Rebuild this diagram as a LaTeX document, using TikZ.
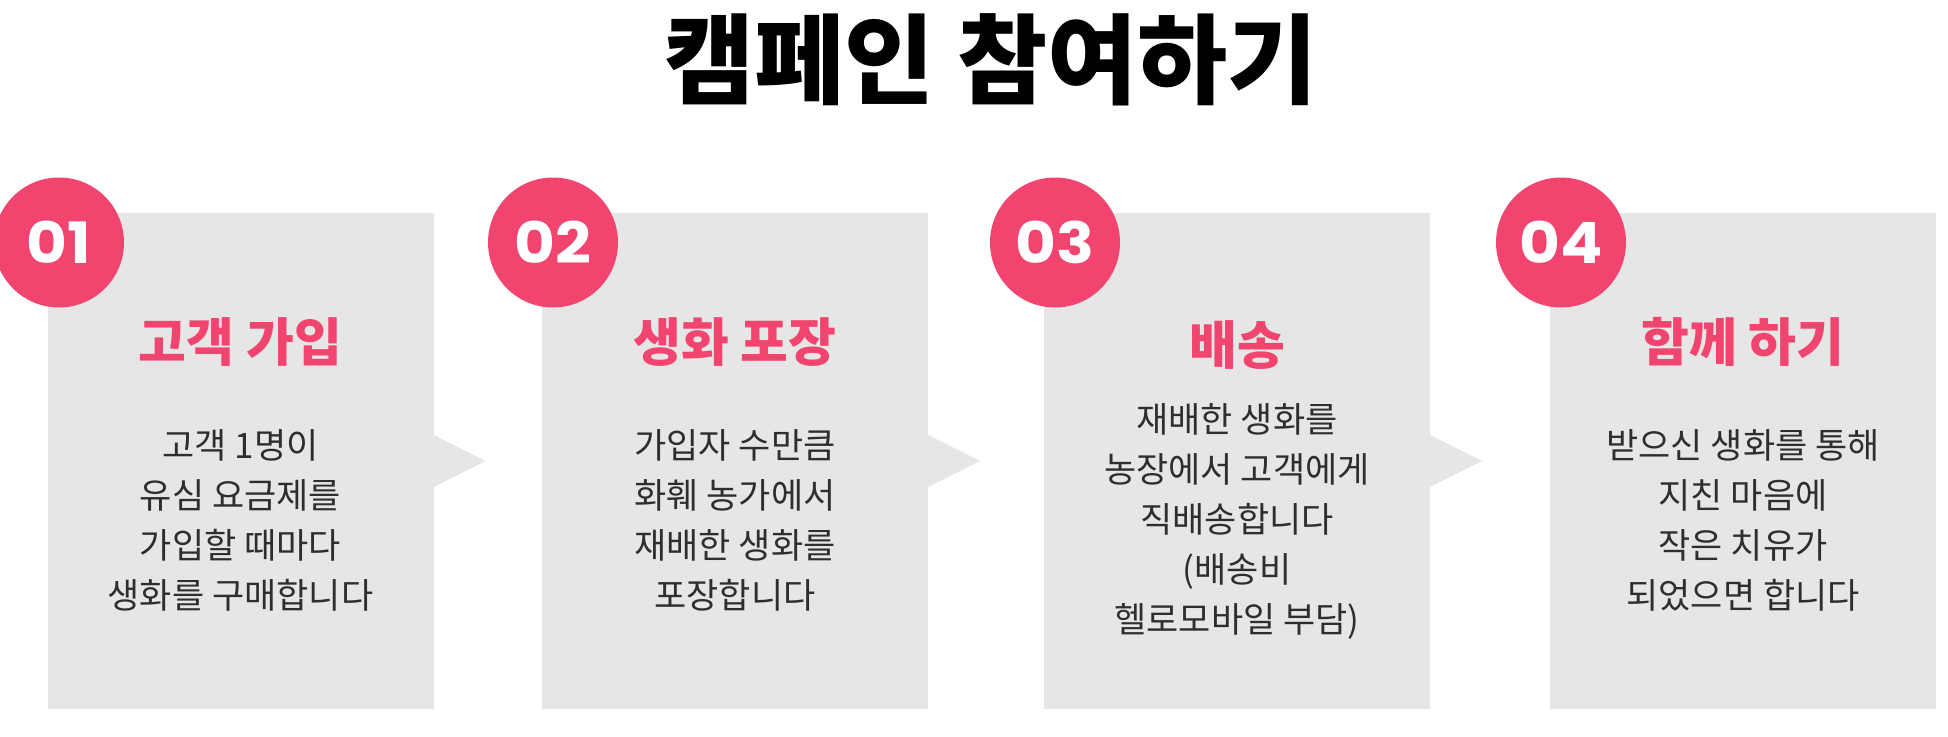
\documentclass[tikz,border=0pt]{standalone}
\usepackage{fontspec}
\setmainfont{Noto Sans CJK KR}
\newfontfamily\numfont{Poppins}[FakeStretch=1.1]
\definecolor{pinkc}{HTML}{F1446E}
\definecolor{boxgray}{HTML}{E6E6E6}
\definecolor{bodyc}{HTML}{2E2E2E}
\tikzset{
  panel/.style={rectangle, fill=boxgray, draw=none, minimum width=386pt, minimum height=496pt, inner sep=0pt},
  pointer/.style={fill=boxgray, draw=none},
  badge/.style={circle, fill=pinkc, minimum size=130pt, inner sep=0pt, text=white, font=\numfont\bfseries\fontsize{57}{57}\selectfont},
  heading/.style={text=pinkc, inner sep=0pt, font=\bfseries\fontsize{52}{52}\selectfont},
  body/.style={text=bodyc, align=center, inner sep=0pt, font=\fontsize{35}{50}\selectfont},
  titletext/.style={text=black, inner sep=0pt, font=\bfseries\fontsize{98}{98}\selectfont}
}
\begin{document}
\begin{tikzpicture}[x=1pt,y=-1pt]
\useasboundingbox[fill=white] (0,0) rectangle (1948,736);
\node[titletext] (title) at (991,60) {캠페인 참여하기};
% panels
\node[panel] (b1) at (240.5,461) {};
\node[panel] (b2) at (735,461) {};
\node[panel] (b3) at (1237,461) {};
\node[panel] (b4) at (1743,461) {};
% pointers
\foreach \b in {b1,b2,b3}{
  \fill[pointer] ([yshift=26pt]\b.east) -- ([xshift=52pt]\b.east) -- ([yshift=-26pt]\b.east) -- cycle;
}
% badges
\node[badge] (n1) at (59,242.5) {01};
\node[badge] (n2) at (553,242.5) {02};
\node[badge] (n3) at (1055,242.5) {03};
\node[badge] (n4) at (1561,242.5) {04};
% headings
\node[heading] (h1) at (240.5,342) {고객 가입};
\node[heading] (h2) at (735,342) {생화 포장};
\node[heading] (h3) at (1237,345) {배송};
\node[heading] (h4) at (1743,342) {함께 하기};
% bodies
\node[body] (t1) at (240.5,520) {고객 1명이\\유심 요금제를\\가입할 때마다\\생화를 구매합니다};
\node[body] (t2) at (735,520) {가입자 수만큼\\화훼 농가에서\\재배한 생화를\\포장합니다};
\node[body] (t3) at (1237,521) {재배한 생화를\\농장에서 고객에게\\직배송합니다\\(배송비\\헬로모바일 부담)};
\node[body] (t4) at (1743,520) {받으신 생화를 통해\\지친 마음에\\작은 치유가\\되었으면 합니다};
\end{tikzpicture}
\end{document}
